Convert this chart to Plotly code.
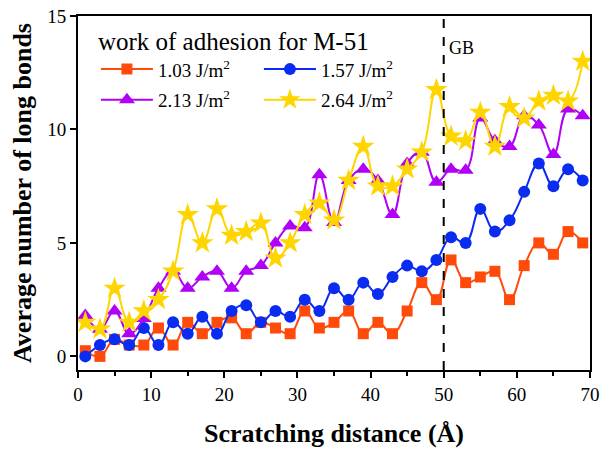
import plotly.graph_objects as go

distance = [1, 3, 5, 7, 9, 11, 13, 15, 17, 19, 21, 23, 25, 27, 29, 31, 33, 35,
            37, 39, 41, 43, 45, 47, 49, 51, 53, 55, 57, 59, 61, 63, 65, 67, 69]

w103 = [0.25, 0, 0.75, 0.5, 0.5, 1.25, 0.5, 1.5, 1.0, 1.5, 1.7, 1.0, 1.5, 1.25, 1.0, 2.0, 1.25, 1.5,
        2.0, 1.0, 1.5, 1.0, 2.0, 3.25, 2.5, 4.25, 3.25, 3.5, 3.75, 2.5, 4.0, 5.0, 4.5, 5.5, 5.0]
w157 = [0, 0.5, 0.75, 0.5, 1.25, 0.5, 1.5, 1.0, 1.75, 1.0, 2.0, 2.25, 1.5, 2.0, 1.75, 2.5, 2.0, 3.0,
        2.5, 3.25, 2.75, 3.5, 4.0, 3.75, 4.25, 5.25, 5.0, 6.5, 5.5, 6.0, 7.25, 8.5, 7.5, 8.25, 7.75]
w213 = [1.8, 1.2, 2.0, 1.0, 1.67, 3.0, 3.75, 3.0, 3.5, 3.75, 3.0, 3.75, 4.0, 5.0, 5.75, 5.67, 8.0, 5.9,
        7.75, 8.25, 7.75, 6.25, 8.5, 9.0, 7.67, 8.25, 8.2, 10.5, 9.5, 9.25, 10.6, 10.2, 8.9, 10.9, 10.6]
w264 = [1.5, 1.2, 3.0, 1.5, 2.0, 2.5, 3.75, 6.25, 5.0, 6.5, 5.33, 5.5, 5.87, 4.33, 5.0, 6.25, 6.75, 6.0,
        7.75, 9.25, 7.5, 7.5, 8.25, 9.0, 11.75, 9.7, 9.5, 10.75, 9.25, 11.0, 10.5, 11.25, 11.5, 11.25, 13.0]

series_names = ["1.03 J/m<sup>2</sup>", "1.57 J/m<sup>2</sup>", "2.13 J/m<sup>2</sup>", "2.64 J/m<sup>2</sup>"]
series_vals = [w103, w157, w213, w264]
colors = ["#FF4A0A", "#0A2BF0", "#B000F5", "#FFD500"]
symbols = ["square", "circle", "triangle-up", "star"]
msizes = [11, 12, 14, 17]
legend_ids = ["legend", "legend", "legend2", "legend2"]

GB_X = 50
x_ticks = [0, 10, 20, 30, 40, 50, 60, 70]
y_ticks = [0, 5, 10, 15]

FONT = "Liberation Serif"

fig = go.Figure()
for name, vals, c, s, ms, lg in zip(series_names, series_vals, colors, symbols, msizes, legend_ids):
    fig.add_trace(go.Scatter(
        x=distance, y=vals, name=name, mode="lines+markers", legend=lg,
        line=dict(color=c, width=2, shape="spline", smoothing=1.2),
        marker=dict(symbol=s, size=ms, color=c, line=dict(width=0)),
    ))

fig.add_shape(type="line", xref="x", yref="paper", x0=GB_X, x1=GB_X, y0=0, y1=1,
              line=dict(color="black", width=2, dash="dash"))
fig.add_annotation(x=GB_X, y=0.91, xref="x", yref="paper", text="GB", showarrow=False,
                   xanchor="left", yanchor="middle", xshift=3, font=dict(family=FONT, size=18, color="black"))

axis_common = dict(showline=True, linecolor="black", linewidth=2, mirror=True,
                   ticks="outside", tickcolor="black", tickwidth=1.5, ticklen=6,
                   showgrid=False, zeroline=False, automargin=False,
                   tickfont=dict(family=FONT, size=19, color="black"))

legend_common = dict(orientation="h", xanchor="left", yanchor="top",
                     entrywidth=96, entrywidthmode="pixels", itemwidth=52,
                     font=dict(family=FONT, size=19, color="black"),
                     bgcolor="rgba(255,255,255,0)")

fig.update_layout(
    width=600, height=450,
    margin=dict(l=78, r=10, t=16, b=80),
    plot_bgcolor="white", paper_bgcolor="white",
    xaxis=dict(range=[0, 70], tickvals=x_ticks,
               minor=dict(dtick=5, tick0=0, ticks="outside", ticklen=4, tickcolor="black", tickwidth=1.5),
               title=dict(text="<b>Scratching distance (Å)</b>", font=dict(family=FONT, size=26, color="black"), standoff=20),
               **axis_common),
    yaxis=dict(range=[-0.6, 15], tickvals=y_ticks,
               title=dict(text="<b>Average number of long bonds</b>", font=dict(family=FONT, size=26, color="black"), standoff=8),
               **axis_common),
    legend=dict(
        title=dict(text="work of adhesion for M-51", font=dict(family=FONT, size=25, color="black"), side="top"),
        x=0.035, y=0.995, **legend_common),
    legend2=dict(x=0.035, y=0.817, **legend_common),
)

fig.write_html("out.html", config={"displayModeBar": False},
               post_script="document.body.style.margin='0';")
